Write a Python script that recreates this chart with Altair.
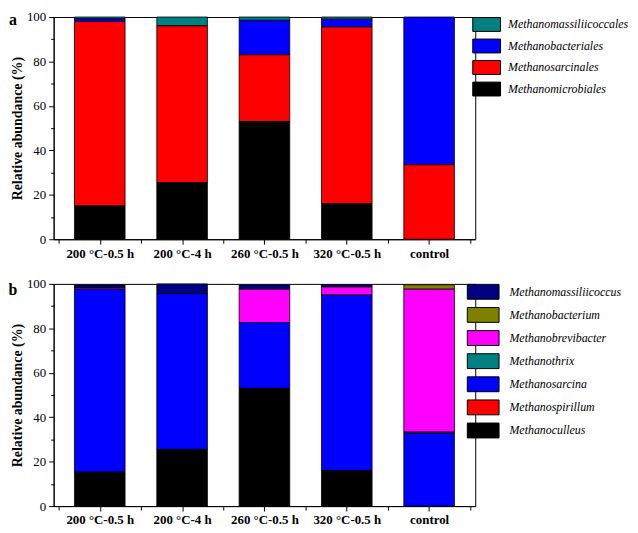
import json
import altair as alt
import pandas as pd

categories = ["200 °C-0.5 h", "200 °C-4 h", "260 °C-0.5 h", "320 °C-0.5 h", "control"]

# ---- panel a (orders) ----
a_series = ["Methanomassiliicoccales", "Methanobacteriales", "Methanosarcinales", "Methanomicrobiales"]
a_colors = ["#008080", "#0000FF", "#FF0000", "#000000"]
a_methanomicrobiales = [15.0, 25.5, 53.0, 16.0, 0.0]
a_methanosarcinales = [83.0, 70.5, 30.0, 79.5, 33.5]
a_methanobacteriales = [1.2, 0.0, 15.5, 3.5, 66.5]
a_methanomassiliicoccales = [0.8, 4.0, 1.5, 1.0, 0.0]
a_values = [a_methanomassiliicoccales, a_methanobacteriales, a_methanosarcinales, a_methanomicrobiales]

# ---- panel b (genera) ----
b_series = ["Methanomassiliicoccus", "Methanobacterium", "Methanobrevibacter", "Methanothrix",
            "Methanosarcina", "Methanospirillum", "Methanoculleus"]
b_colors = ["#000080", "#808000", "#FF00FF", "#008080", "#0000FF", "#FF0000", "#000000"]
b_methanoculleus = [15.0, 25.5, 53.0, 16.0, 0.0]
b_methanospirillum = [0.3, 0.0, 0.0, 0.0, 0.0]
b_methanosarcina = [82.3, 70.1, 29.6, 79.0, 32.8]
b_methanothrix = [0.0, 0.0, 0.0, 0.0, 0.5]
b_methanobrevibacter = [0.6, 0.0, 15.0, 3.6, 64.3]
b_methanobacterium = [0.0, 0.0, 0.0, 0.0, 2.0]
b_methanomassiliicoccus = [1.3, 4.4, 1.9, 1.0, 0.0]
b_values = [b_methanomassiliicoccus, b_methanobacterium, b_methanobrevibacter, b_methanothrix,
            b_methanosarcina, b_methanospirillum, b_methanoculleus]

FONT = "Liberation Serif"


def long_df(series, values):
    rows = []
    n = len(series)
    for si, (name, vals) in enumerate(zip(series, values)):
        for ci, (cat, v) in enumerate(zip(categories, vals)):
            if v > 0:
                rows.append({"idx": ci, "cat": cat, "taxon": name, "value": v, "order": n - 1 - si})
    return pd.DataFrame(rows)


x_ticks = [i / 2 - 0.5 for i in range(2 * len(categories) + 1)]
x_label_expr = ("datum.value % 1 == 0 ? " + json.dumps(categories, ensure_ascii=False)
                + "[datum.value] : ''")


def panel(series, colors, values, letter, letter_y, leg_offset, sym_h, sym_w, row_pad, lab_off):
    df = long_df(series, values)
    half = sym_w / sym_h
    sym_path = f"M{-half:.3f},-1L{half:.3f},-1L{half:.3f},1L{-half:.3f},1Z"
    bars = alt.Chart(df).mark_bar(size=51, stroke="black", strokeWidth=0.8).encode(
        x=alt.X("idx:Q",
                scale=alt.Scale(domain=[-0.5, len(categories) - 0.5], nice=False, zero=False),
                axis=alt.Axis(values=x_ticks, labelExpr=x_label_expr, title=None, grid=False,
                              labelFlush=False, labelOverlap=False,
                              labelFont=FONT, labelFontSize=13, labelFontWeight="bold",
                              labelColor="black", labelPadding=3,
                              tickSize={"condition": {"test": "datum.value % 1 != 0", "value": 4}, "value": 5})),
        y=alt.Y("value:Q", stack="zero",
                scale=alt.Scale(domain=[0, 100], nice=False),
                axis=alt.Axis(values=list(range(0, 101, 10)),
                              labelExpr="datum.value % 20 == 0 ? datum.label : ''",
                              title="Relative abundance (%)", grid=False,
                              titleFont=FONT, titleFontSize=14, titleFontWeight="bold",
                              titleColor="black", titlePadding=2,
                              labelFont=FONT, labelFontSize=13, labelColor="black",
                              labelPadding=3,
                              tickSize={"condition": {"test": "datum.value % 20 != 0", "value": 3}, "value": 5})),
        color=alt.Color("taxon:N",
                        scale=alt.Scale(domain=series, range=colors),
                        legend=alt.Legend(title=None, orient="right", offset=leg_offset, padding=0,
                                          symbolType=sym_path, symbolSize=sym_h * sym_h,
                                          symbolStrokeColor="black", symbolStrokeWidth=1,
                                          symbolOpacity=1,
                                          labelFont=FONT, labelFontStyle="italic", labelFontSize=12,
                                          labelColor="black", labelOffset=lab_off, labelLimit=400,
                                          rowPadding=row_pad)),
        order=alt.Order("order:Q", sort="ascending"),
    )
    lab = alt.Chart(pd.DataFrame({"t": [letter]})).mark_text(
        font=FONT, fontSize=16, fontWeight="bold", color="black", align="center",
        baseline="middle"
    ).encode(text="t:N", x=alt.value(-41), y=alt.value(letter_y))
    return alt.layer(bars, lab).properties(width=425, height=224)


top = panel(a_series, a_colors, a_values, "a", 3, 4, 14, 28, 2.7, 14)
bottom = panel(b_series, b_colors, b_values, "b", 6, -0.5, 15, 32, 3.3, 18.5)

chart = alt.vconcat(top, bottom, spacing=16).resolve_scale(color="independent").properties(
    padding=0
).configure_view(stroke="black", strokeWidth=1).configure_axis(
    domainColor="black", tickColor="black", domainWidth=1, tickWidth=1
)

chart.save("out.html", embed_options={"renderer": "svg", "actions": False})
